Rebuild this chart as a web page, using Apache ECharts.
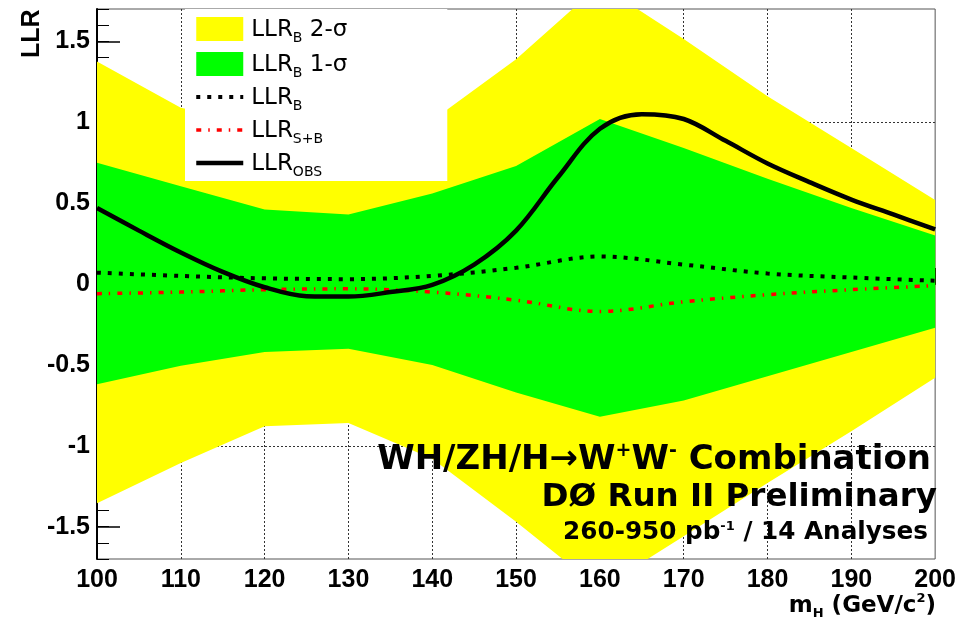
<!DOCTYPE html>
<html>
<head>
<meta charset="utf-8">
<script src="https://cdn.jsdelivr.net/npm/echarts@6/dist/echarts.min.js"></script>
<style>
  html, body { margin: 0; padding: 0; background: #fff; }
  #chart { width: 959px; height: 620px; }
</style>
</head>
<body>
<div id="chart"></div>
<script>
// Higgs mass points where the expected bands are evaluated (GeV/c^2)
const massPoints = [100, 110, 120, 130, 140, 150, 160, 170, 180, 190, 200];
// Background-only expectation and its 1- and 2-sigma envelopes
const band2Low  = [-1.355, -1.107, -0.88, -0.86, -1.08, -1.47, -1.885, -1.56, -1.23, -0.91, -0.58];
const band2High = [1.376, 1.09, 0.98, 0.92, 1.01, 1.39, 1.85, 1.515, 1.16, 0.84, 0.52];
const band1Low  = [-0.62, -0.505, -0.42, -0.40, -0.50, -0.67, -0.82, -0.72, -0.57, -0.42, -0.27];
const band1High = [0.75, 0.605, 0.46, 0.43, 0.56, 0.73, 1.02, 0.84, 0.65, 0.47, 0.30];
const llrB      = [0.07, 0.05, 0.035, 0.03, 0.05, 0.10, 0.17, 0.12, 0.065, 0.04, 0.02];
const llrSB     = [-0.06, -0.05, -0.035, -0.03, -0.05, -0.10, -0.17, -0.11, -0.066, -0.035, -0.01];
// Observed LLR, finer mass grid
const obsMass = [100, 105, 110, 115, 120, 125, 130, 135, 140, 145, 150, 155, 160, 165, 170, 175, 180, 185, 190, 195, 200];
const llrObs  = [0.47, 0.33, 0.195, 0.075, -0.02, -0.075, -0.078, -0.05, -0.005, 0.12, 0.33, 0.66, 0.96, 1.05, 1.02, 0.885, 0.745, 0.63, 0.522, 0.43, 0.337];
// Axis labels
const yMajorTicks = [-1.5, -1, -0.5, 0, 0.5, 1, 1.5];

const pairs = (xs, ys) => xs.map((x, i) => [x, ys[i]]);

// Filled band between a lower and an upper curve, drawn as one polygon
function bandSeries(name, lo, hi, color, z) {
  const rows = massPoints.map((x, i) => [x, lo[i], hi[i]]);
  return {
    type: 'custom', name, coordinateSystem: 'cartesian2d', data: rows,
    encode: { x: 0, y: [1, 2] }, clip: true, silent: true, z,
    itemStyle: { color },
    renderItem: (params, api) => {
      if (params.dataIndex !== 0) return null;
      const upper = rows.map(r => api.coord([r[0], r[2]]));
      const lower = rows.slice().reverse().map(r => api.coord([r[0], r[1]]));
      return { type: 'polygon', shape: { points: upper.concat(lower) }, style: { fill: color, stroke: null } };
    }
  };
}

const chart = echarts.init(document.getElementById('chart'), null, { renderer: 'canvas' });

const labelFont = { fontFamily: 'Liberation Sans', fontWeight: 'bold', fontSize: 25, color: '#000' };
const dotted = { color: '#333', width: 1, type: [2, 2] };

const legendText = {
  'LLR_B 2-σ': '{m|LLR}{s|B}{m| 2-σ}',
  'LLR_B 1-σ': '{m|LLR}{s|B}{m| 1-σ}',
  'LLR_B': '{m|LLR}{s|B}',
  'LLR_S+B': '{m|LLR}{s|S+B}',
  'LLR_OBS': '{m|LLR}{s|OBS}'
};
const hiddenMarker = { opacity: 0 };

const option = {
  animation: false,
  backgroundColor: '#fff',
  grid: { left: 97, right: 23, top: 9, bottom: 61, show: true, borderColor: '#555', borderWidth: 1, backgroundColor: 'transparent' },
  xAxis: {
    type: 'value', min: 100, max: 200, interval: 10,
    axisLine: { show: true, lineStyle: { color: '#000', width: 2 } },
    axisTick: { show: true, inside: true, length: 16, lineStyle: { color: '#000', width: 1 } },
    minorTick: { show: true, splitNumber: 5, length: 8, lineStyle: { color: '#000', width: 1 } },
    axisLabel: Object.assign({ margin: 9 }, labelFont),
    splitLine: { show: true, showMinLine: false, showMaxLine: false, lineStyle: dotted }
  },
  yAxis: [
    {
      type: 'value', min: -1.7, max: 1.7, interval: 0.1, position: 'left',
      axisLine: { show: true, lineStyle: { color: '#000', width: 2 } },
      axisTick: { show: true, inside: true, length: 12, lineStyle: { color: '#000', width: 1 } },
      axisLabel: { show: false },
      splitLine: { show: false }
    },
    {
      type: 'value', min: -1.7, max: 1.7, position: 'left',
      axisLine: { show: false },
      axisTick: { show: true, inside: true, length: 23, customValues: yMajorTicks, lineStyle: { color: '#000', width: 1.5 } },
      axisLabel: Object.assign({ margin: 7, customValues: yMajorTicks, formatter: v => String(v) }, labelFont),
      splitLine: { show: true, showMinLine: false, showMaxLine: false, lineStyle: dotted }
    }
  ],
  legend: {
    orient: 'vertical', left: 185, top: 9,
    padding: [8, 100, 2, 9],
    backgroundColor: '#fff', borderWidth: 0,
    itemWidth: 47, itemHeight: 24, itemGap: 7,
    data: [
      { name: 'LLR_B 2-σ', icon: 'rect' },
      { name: 'LLR_B 1-σ', icon: 'rect' },
      { name: 'LLR_B', itemStyle: hiddenMarker },
      { name: 'LLR_S+B', itemStyle: hiddenMarker },
      { name: 'LLR_OBS', itemStyle: hiddenMarker }
    ],
    lineStyle: { width: 'inherit', type: 'inherit' },
    formatter: n => legendText[n],
    selectedMode: false,
    textStyle: {
      padding: [0, 0, 0, 3],
      rich: {
        m: { fontFamily: 'DejaVu Sans', fontSize: 23, lineHeight: 20, verticalAlign: 'top', color: '#000' },
        s: { fontFamily: 'DejaVu Sans', fontSize: 14, lineHeight: 12, padding: [12, 0, 0, 0], verticalAlign: 'top', color: '#000' }
      }
    }
  },
  graphic: [
    { type: 'text', x: 20, y: 58, rotation: Math.PI / 2, z: 100,
      style: { text: 'LLR', fontFamily: 'Liberation Sans', fontWeight: 'bold', fontSize: 25, fill: '#000', align: 'left', verticalAlign: 'top' } },
    { type: 'text', x: 936, y: 606, z: 100,
      style: {
        text: '{a|m}{b|H}{a| (GeV/c}{c|2}{a|)}', align: 'right', verticalAlign: 'middle', fill: '#000',
        rich: {
          a: { fontFamily: 'DejaVu Sans', fontWeight: 'bold', fontSize: 23, lineHeight: 22 },
          b: { fontFamily: 'DejaVu Sans', fontWeight: 'bold', fontSize: 13, lineHeight: 13, padding: [15, 0, 0, 0] },
          c: { fontFamily: 'DejaVu Sans', fontWeight: 'bold', fontSize: 13, lineHeight: 13, padding: [0, 0, 15, 0] }
        }
      } },
    { type: 'text', x: 931, y: 460, z: 100,
      style: {
        text: '{a|WH/ZH/H→W}{p|+}{a|W}{p|-}{a| Combination}', align: 'right', verticalAlign: 'middle', fill: '#000',
        rich: {
          a: { fontFamily: 'DejaVu Sans', fontWeight: 'bold', fontSize: 34, lineHeight: 34 },
          p: { fontFamily: 'DejaVu Sans', fontWeight: 'bold', fontSize: 19, lineHeight: 19, padding: [0, 0, 18, 0] }
        }
      } },
    { type: 'text', x: 937, y: 498, z: 100,
      style: { text: 'DØ Run II Preliminary', align: 'right', verticalAlign: 'middle', fill: '#000',
        fontFamily: 'DejaVu Sans', fontWeight: 'bold', fontSize: 32.5 } },
    { type: 'text', x: 928, y: 533, z: 100,
      style: {
        text: '{a|260-950 pb}{p|-1}{a| / 14 Analyses}', align: 'right', verticalAlign: 'middle', fill: '#000',
        rich: {
          a: { fontFamily: 'DejaVu Sans', fontWeight: 'bold', fontSize: 24.7, lineHeight: 24 },
          p: { fontFamily: 'DejaVu Sans', fontWeight: 'bold', fontSize: 13, lineHeight: 13, padding: [0, 0, 13, 0] }
        }
      } }
  ],
  series: [
    bandSeries('LLR_B 2-σ', band2Low, band2High, '#ffff00', 1),
    bandSeries('LLR_B 1-σ', band1Low, band1High, '#00ff00', 2),
    { type: 'line', name: 'LLR_B', data: pairs(massPoints, llrB), smooth: 0.35, symbol: 'none',
      itemStyle: { color: '#000' },
      lineStyle: { color: '#000', width: 4, type: [4, 7], cap: 'butt' }, z: 3 },
    { type: 'line', name: 'LLR_S+B', data: pairs(massPoints, llrSB), smooth: 0.35, symbol: 'none',
      itemStyle: { color: '#ff0000' },
      lineStyle: { color: '#ff0000', width: 3.5, type: [5, 7, 1.5, 7], cap: 'butt' }, z: 4 },
    { type: 'line', name: 'LLR_OBS', data: pairs(obsMass, llrObs), smooth: 0.35, symbol: 'none',
      itemStyle: { color: '#000' },
      lineStyle: { color: '#000', width: 4.5 }, z: 5 }
  ]
};

chart.setOption(option);
</script>
</body>
</html>
